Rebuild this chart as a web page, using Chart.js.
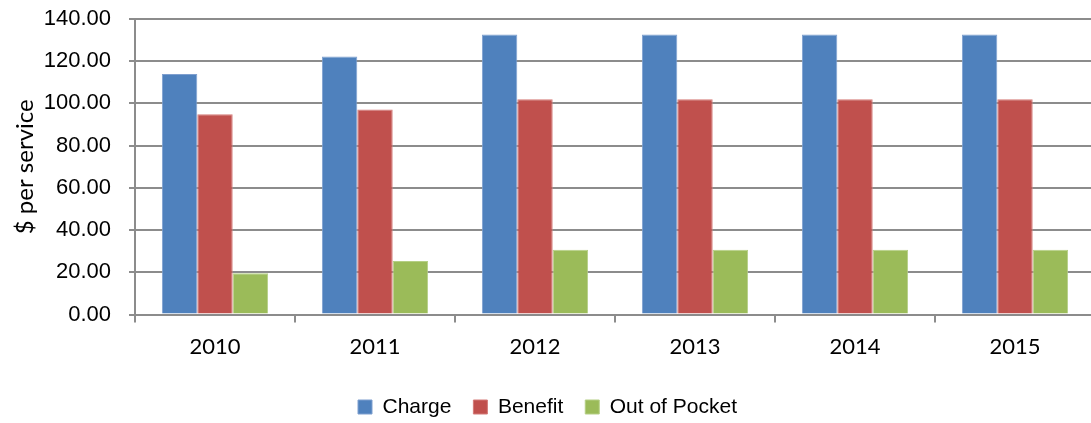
<!DOCTYPE html>
<html>
<head>
<meta charset="utf-8">
<script src="https://cdn.jsdelivr.net/npm/chart.js@4"></script>
<style>
html,body{margin:0;padding:0;background:#fff;overflow:hidden;}
#wrap{width:1106px;height:423px;position:relative;}
</style>
</head>
<body>
<div id="wrap"><canvas id="c" width="1106" height="423"></canvas></div>
<script>
const categories = ['2010','2011','2012','2013','2014','2015'];
const charge = [114.0, 122.2, 132.6, 132.6, 132.6, 132.6];
const benefit = [94.9, 97.1, 102.0, 102.0, 102.0, 102.0];
const outOfPocket = [19.5, 25.4, 30.7, 30.7, 30.7, 30.7];
const seriesNames = ['Charge','Benefit','Out of Pocket'];
const yTicks = [0, 20, 40, 60, 80, 100, 120, 140];

const colors = ['#4F81BD','#C0504D','#9BBB59'];
const borders = ['#7f9fcf','#d47a78','#b5cf85'];
const values = [charge, benefit, outOfPocket];

new Chart(document.getElementById('c'), {
  type: 'bar',
  data: {
    labels: categories,
    datasets: seriesNames.map((n,i)=>({
      label: n,
      data: values[i],
      backgroundColor: colors[i],
      borderColor: borders[i],
      borderWidth: 1,
      borderSkipped: 'bottom',
      categoryPercentage: 0.664,
      barPercentage: 1.0
    }))
  },
  options: {
    responsive: false,
    animation: false,
    devicePixelRatio: 1,
    layout: { padding: { top: 19, right: 11, left: 0, bottom: -4.5 } },
    plugins: {
      tooltip: { enabled: false },
      legend: {
        position: 'bottom',
        labels: {
          boxWidth: 14, boxHeight: 14,
          padding: 22,
          color: '#000',
          font: { family: '"Liberation Sans", Arial, sans-serif', size: 21 }
        }
      }
    },
    scales: {
      x: {
        afterFit: s => { s.height = 60; },
        grid: { offset: true, drawOnChartArea: false, drawTicks: true, tickLength: 8, color: '#8c8c8c', lineWidth: 2 },
        border: { color: '#8c8c8c', width: 2 },
        ticks: { color: '#000', padding: 11.5, font: { family: 'Lato, "Open Sans", sans-serif', size: 22 } }
      },
      y: {
        min: 0, max: 140,
        afterBuildTicks: s => { s.ticks = yTicks.map(v=>({value:v})); },
        afterFit: s => { s.width = 135; s.paddingTop = 0; s.paddingBottom = 0; },
        grid: { color: '#8c8c8c', lineWidth: 2, tickLength: 6, drawTicks: true },
        border: { color: '#8c8c8c', width: 2 },
        ticks: {
          color: '#000', padding: 18,
          font: { family: '"Liberation Sans", Arial, sans-serif', size: 22 },
          callback: v => Number(v).toFixed(2)
        },
        title: {
          display: true, text: '$ per service', color: '#000',
          padding: { top: 11, bottom: 0 },
          font: { family: 'Lato, "Open Sans", sans-serif', size: 24, weight: 'normal' }
        }
      }
    }
  }
});
</script>
</body>
</html>
